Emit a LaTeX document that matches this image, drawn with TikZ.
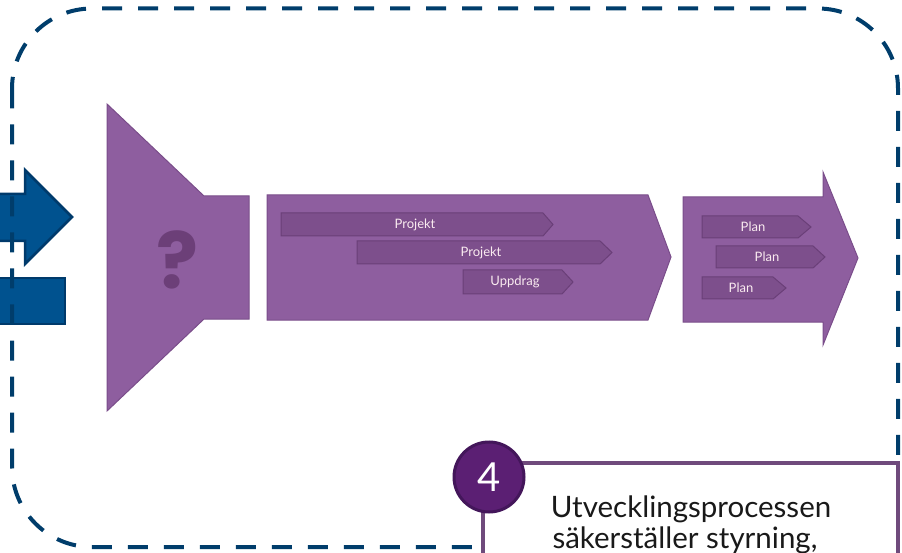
\documentclass[tikz,border=0pt]{standalone}
\usepackage{fontspec}
\setmainfont{Lato}
\newfontfamily\qfont{Poppins}
\definecolor{dashblue}{HTML}{003D6B}
\definecolor{arrowblue}{HTML}{00528F}
\definecolor{arrowedge}{HTML}{003A6B}
\definecolor{mainpurple}{HTML}{8E5E9F}
\definecolor{mainedge}{HTML}{7A4D8A}
\definecolor{barpurple}{HTML}{7D4F8C}
\definecolor{baredge}{HTML}{6A3F78}
\definecolor{qmark}{HTML}{6C3F78}
\definecolor{circfill}{HTML}{5B1F73}
\definecolor{circedge}{HTML}{43165A}
\definecolor{calloutline}{HTML}{6F4A7C}
\tikzset{
  dashbox/.style={draw=dashblue, line width=4pt, dash pattern=on 20pt off 16pt},
  bluearrow/.style={fill=arrowblue, draw=arrowedge, line width=2.5pt},
  mainshape/.style={fill=mainpurple, draw=mainedge, line width=1pt, line join=miter},
  barshape/.style={fill=barpurple, draw=baredge, line width=1pt},
  bartext/.style={text=white!92!purple, font=\fontsize{13}{15}\selectfont, inner sep=0pt},
  callout/.style={draw=calloutline, line width=4pt},
  callouttext/.style={font=\fontsize{29.5}{33}\selectfont, text=black!90, align=center, anchor=base},
}
\begin{document}
\begin{tikzpicture}[x=1pt,y=-1pt]
\useasboundingbox (0,0) rectangle (902,553);
\clip (0,0) rectangle (902,553);
% blue input shapes
\draw[bluearrow] (-10,194) -- (25,194) -- (25,170) -- (72,217) -- (25,264) -- (25,241) -- (-10,241) -- cycle;
\draw[bluearrow] (-10,278) rectangle (65,324);
% dashed frame
\draw[dashbox, rounded corners=80pt] (12,8.5) rectangle (898,547);
% funnel
\draw[mainshape] (107,104) -- (204,196) -- (249,196) -- (249,319) -- (204,319) -- (107,411) -- cycle;
\node[text=qmark, font=\qfont\bfseries\fontsize{78}{78}\selectfont, inner sep=0pt] (q) at (177,260) {?};
% middle block
\draw[mainshape] (267,195) -- (648,195) -- (671,257) -- (648,320) -- (267,320) -- cycle;
\draw[barshape] (281,213) -- (543,213) -- (553,224.5) -- (543,236) -- (281,236) -- cycle;
\node[bartext] (p1) at (415,224.5) {Projekt};
\draw[barshape] (357,241) -- (600,241) -- (612,252.5) -- (600,264) -- (357,264) -- cycle;
\node[bartext] (p2) at (481,252.5) {Projekt};
\draw[barshape] (463,270) -- (562,270) -- (573,282) -- (562,294) -- (463,294) -- cycle;
\node[bartext] (u) at (515,282) {Uppdrag};
% right arrow
\draw[mainshape] (683,197) -- (823,197) -- (823,172) -- (858,258) -- (823,345) -- (823,322) -- (683,322) -- cycle;
\draw[barshape] (702,216) -- (798,216) -- (811,227) -- (798,238) -- (702,238) -- cycle;
\node[bartext] (pl1) at (753,227) {Plan};
\draw[barshape] (716,246) -- (813,246) -- (825,257) -- (813,268) -- (716,268) -- cycle;
\node[bartext] (pl2) at (767,257) {Plan};
\draw[barshape] (702,277) -- (773,277) -- (786,288) -- (773,299) -- (702,299) -- cycle;
\node[bartext] (pl3) at (741,288) {Plan};
% callout
\fill[white] (483,463) rectangle (898,560);
\draw[callout] (483,570) -- (483,463) -- (898,463) -- (898,570);
\node[circle, fill=circfill, draw=circedge, line width=3pt, minimum size=70pt, inner sep=0pt,
      text=white, font=\fontsize{40}{40}\selectfont] (n4) at (489,477) {4};
\node[callouttext] (t1) at (691,517) {Utvecklingsprocessen};
\node[callouttext] (t2) at (685,548) {säkerställer styrning,};
\end{tikzpicture}
\end{document}
